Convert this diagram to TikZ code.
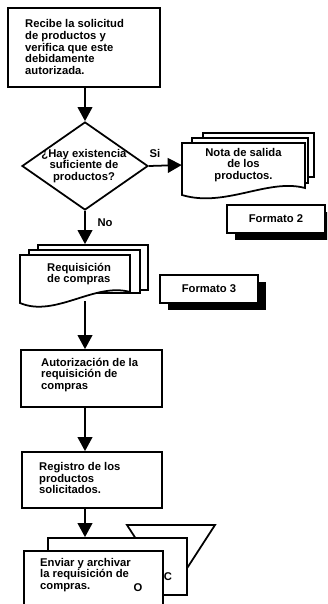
\documentclass[tikz,border=0pt]{standalone}
\usepackage{fontspec}
\setmainfont{Liberation Sans}
\usetikzlibrary{arrows.meta,shapes.geometric,shadows}

\begin{document}
\begin{tikzpicture}[x=0.03cm, y=-0.03cm, >={Triangle[length=0.42cm,width=0.44cm]},
    every node/.style={font=\fontsize{9.6}{10}\selectfont\bfseries, inner sep=0pt},
    box/.style={draw, line width=1.5pt, fill=white},
    sheet/.style={draw, line width=1.5pt, fill=white},
    fmt/.style={draw, line width=1.5pt, fill=white,
        drop shadow={shadow xshift=0.24cm, shadow yshift=-0.2cm, fill=black, opacity=1}},
    flow/.style={->, line width=1.5pt},
    txt/.style={align=left, anchor=west}]

    \clip (0,0) rectangle (327,604);
    \coordinate (col) at (85,0);

    % --- Recibe / decision ---
    \node[box, minimum width=4.56cm, minimum height=2.37cm] (recibe) at (84,47.5) {};
    \node[txt] (recibe-t) at (25,47) {Recibe la solicitud\\de productos y\\verifica que este\\debidamente\\autorizada.};

    \node[draw, diamond, line width=1.5pt, aspect=1.43, minimum width=3.78cm, minimum height=2.64cm] (hay) at (85,166) {};
    \node[align=center] (hay-t) at (84,166) {¿Hay existencia\\suficiente de\\productos?};
    \draw[flow] (recibe.south -| col) -- (hay.north);

    % --- Nota de salida (Si) ---
    \node[sheet, minimum width=3.33cm, minimum height=1.32cm] (nota3) at (258.5,155) {};
    \node[sheet, minimum width=3.48cm, minimum height=1.35cm] (nota2) at (250,160.5) {};
    \filldraw[sheet] (182,143) -- (305,143) -- (305,188) .. controls (268,178) and (225,208) .. (182,195) -- cycle;
    \node[align=center, minimum width=3.69cm, minimum height=1.32cm] (nota) at (243.5,165) {Nota de salida\\de los\\productos.};
    \draw[flow] (hay.east) -- (nota.west);
    \node (si) at (155,153) {Si};

    \node[fmt, minimum width=2.94cm, minimum height=0.84cm] (f2) at (276,219) {Formato 2};

    % --- Requisicion (No) ---
    \node[sheet, minimum width=3.3cm, minimum height=1.35cm] (reqback) at (93,267.5) {};
    \node[sheet, minimum width=3.33cm, minimum height=1.29cm] (reqmid) at (84.5,271.5) {};
    \filldraw[sheet] (20,255) -- (130,255) -- (130,292) .. controls (95,282) and (55,318) .. (20,303) -- cycle;
    \node[txt] (req) at (47,274) {Requisición\\de compras};
    \coordinate (reqbot) at (85,301);
    \draw[flow] (hay.south) -- (reqback.north -| hay.south);
    \node (no) at (105,223) {No};

    \node[fmt, minimum width=2.94cm, minimum height=0.84cm] (f3) at (209,289) {Formato 3};

    % --- Autorizacion / Registro ---
    \node[box, minimum width=4.23cm, minimum height=1.71cm] (autor) at (91.5,378.5) {};
    \node[txt] (autor-t) at (41,375) {Autorización de la\\requisición de\\compras};
    \draw[flow] (reqbot) -- (autor.north -| reqbot);

    \node[box, minimum width=4.2cm, minimum height=1.68cm] (reg) at (92,480) {};
    \node[txt] (reg-t) at (39,478) {Registro de los\\productos\\solicitados.};
    \draw[flow] (autor.south -| col) -- (reg.north -| col);

    % --- Enviar y archivar ---
    \filldraw[sheet] (127,525) -- (215,525) -- (171,593) -- cycle;
    \node[sheet, minimum width=4.17cm, minimum height=1.71cm] (envback) at (117.5,566.5) {};
    \node[box, minimum width=4.17cm, minimum height=2.1cm, anchor=north west] (envia) at (23,550) {};
    \node[txt] (envia-t) at (40,575) {Enviar y archivar\\la requisición de\\compras.};
    \node (copia) at (168,577) {C};
    \node (orig) at (138,588) {O};
    \draw[flow] (reg.south -| col) -- (envback.north -| col);
\end{tikzpicture}
\end{document}
